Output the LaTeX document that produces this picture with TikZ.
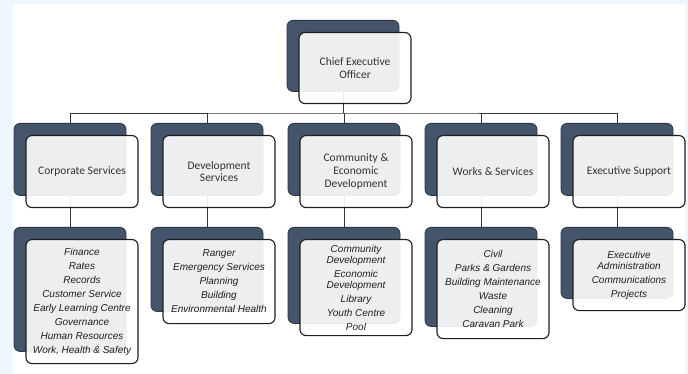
\documentclass[tikz,border=0pt]{standalone}
\usepackage{fontspec}
\usepackage{xcolor}
\usepackage{tikz}
\newfontfamily\headfont{Carlito}
\newfontfamily\listfont{Liberation Sans}
\definecolor{page}{HTML}{EEF6FE}
\definecolor{navy}{HTML}{44546A}
\definecolor{navyedge}{HTML}{2C3848}
\definecolor{wire}{HTML}{383838}
\definecolor{frame}{HTML}{1F1F1F}
\definecolor{ink}{HTML}{333333}
\pgfdeclarelayer{bg}
\pgfdeclarelayer{wires}
\pgfsetlayers{bg,wires,main}
\tikzset{
  back/.style={draw=navyedge, fill=navy, line width=0.8pt, rounded corners=6pt, minimum width=112pt, inner sep=0pt, anchor=north},
  front/.style={draw=frame, fill=white, fill opacity=0.9, text opacity=1, line width=1.1pt, rounded corners=6pt, minimum width=112pt, inner sep=0pt, anchor=north, align=center},
  head/.style={font=\headfont\fontsize{11.5}{13}\selectfont, text=ink},
  list/.style={font=\listfont\itshape\fontsize{10}{11}\selectfont, text=frame},
  link/.style={draw=wire, line width=0.9pt},
}

\begin{document}
\begin{tikzpicture}[x=1pt,y=-1pt]
  \begin{pgfonlayer}{bg}
    \fill[page] (0,0) rectangle (688,374);
    \fill[white] (13,4) rectangle (685,374);
  \end{pgfonlayer}
  % chief executive
  \node[back, minimum height=71pt] (ceo) at (343,20) {};
  \node[front, head, minimum height=71pt] (ceoF) at ([shift={(12,12)}]ceo.north) {Chief Executive\\Officer};
  % directorates
  \node[back, minimum height=72pt] (corp) at (70,123) {};
  \node[back, minimum height=72pt] (dev) at (207,123) {};
  \node[back, minimum height=72pt] (comm) at (344,123) {};
  \node[back, minimum height=72pt] (works) at (481,123) {};
  \node[back, minimum height=72pt] (exec) at (617,123) {};
  \node[front, head, minimum height=72pt] (corpF) at ([shift={(12,12)}]corp.north) {Corporate Services};
  \node[front, head, minimum height=72pt] (devF) at ([shift={(12,12)}]dev.north) {Development\\Services};
  \node[front, head, minimum height=72pt] (commF) at ([shift={(12,12)}]comm.north) {Community \&\\Economic\\Development};
  \node[front, head, minimum height=72pt] (worksF) at ([shift={(12,12)}]works.north) {Works \& Services};
  \node[front, head, minimum height=72pt] (execF) at ([shift={(12,12)}]exec.north) {Executive Support};
  % functions
  \node[back, minimum height=124pt] (corpL) at (70,227) {};
  \node[back, minimum height=84pt] (devL) at (207,227) {};
  \node[back, minimum height=96pt] (commL) at (344,227) {};
  \node[back, minimum height=99pt] (worksL) at (481,227) {};
  \node[back, minimum height=71pt] (execL) at (617,227) {};
  \node[front, list, minimum height=124pt] (corpLF) at ([shift={(12,12)}]corpL.north)
    {Finance\\[3pt]Rates\\[3pt]Records\\[3pt]Customer Service\\[3pt]Early Learning Centre\\[3pt]Governance\\[3pt]Human Resources\\[3pt]Work, Health \& Safety};
  \node[front, list, minimum height=84pt] (devLF) at ([shift={(12,12)}]devL.north)
    {Ranger\\[3pt]Emergency Services\\[3pt]Planning\\[3pt]Building\\[3pt]Environmental Health};
  \node[front, list, minimum height=96pt] (commLF) at ([shift={(12,12)}]commL.north)
    {Community\\Development\\[3pt]Economic\\Development\\[3pt]Library\\[3pt]Youth Centre\\[3pt]Pool};
  \node[front, list, minimum height=99pt] (worksLF) at ([shift={(12,12)}]worksL.north)
    {Civil\\[3pt]Parks \& Gardens\\[3pt]Building Maintenance\\[3pt]Waste\\[3pt]Cleaning\\[3pt]Caravan Park};
  \node[front, list, minimum height=71pt] (execLF) at ([shift={(12,12)}]execL.north)
    {Executive\\Administration\\[3pt]Communications\\[3pt]Projects};
  % connectors
  \begin{pgfonlayer}{wires}
    \coordinate (bus) at (343,113);
    \draw[link] (ceo.center) -- (bus);
    \draw[link] (corp.center) |- (bus) -| (exec.center);
    \draw[link] (dev.center) -- (dev.center |- bus);
    \draw[link] (comm.center) -- (comm.center |- bus);
    \draw[link] (works.center) -- (works.center |- bus);
    \draw[link] (corp.center) -- (corpL.center);
    \draw[link] (dev.center) -- (devL.center);
    \draw[link] (comm.center) -- (commL.center);
    \draw[link] (works.center) -- (worksL.center);
    \draw[link] (exec.center) -- (execL.center);
  \end{pgfonlayer}
\end{tikzpicture}
\end{document}
